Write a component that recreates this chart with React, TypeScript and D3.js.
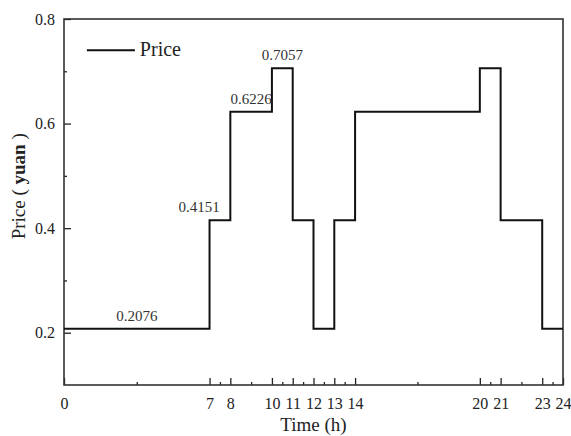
import * as d3 from 'd3';
import { useEffect, useRef } from 'react';

// step boundaries (hours) and the price that holds from each boundary to the next
const hours = [0, 7, 8, 10, 11, 12, 13, 14, 20, 21, 23, 24];
const prices = [0.2076, 0.4151, 0.6226, 0.7057, 0.4151, 0.2076, 0.4151, 0.6226, 0.7057, 0.4151, 0.2076];
const yTicks = [0.2, 0.4, 0.6, 0.8];
const yMinorTicks = [0.3, 0.5, 0.7];
// value labels: [hour, price, text]
const annotations: [number, number, string][] = [
    [3.5, 0.2076, '0.2076'],
    [6.5, 0.4151, '0.4151'],
    [9, 0.6226, '0.6226'],
    [10.5, 0.7057, '0.7057'],
];

const W = 571;
const H = 436;
const font = '"Liberation Serif", "Times New Roman", serif';

function App() {
    const ref = useRef<SVGSVGElement>(null);

    useEffect(() => {
        const margin = { top: 19, right: 8, bottom: 51, left: 64 };
        const width = W - margin.left - margin.right;
        const height = H - margin.top - margin.bottom;

        const root = d3.select(ref.current);
        root.selectAll('*').remove();
        const svg = root.append('g').attr('transform', `translate(${margin.left},${margin.top})`);

        const x = d3.scaleLinear().domain([0, 24]).range([0, width]);
        const y = d3.scaleLinear().domain([0.1, 0.8]).range([height, 0]);

        // minor x ticks halfway between labelled hours
        const xMinor = d3.pairs(hours).map(([a, b]) => (a + b) / 2);

        svg.append('g')
            .attr('transform', `translate(0,${height})`)
            .call(d3.axisBottom(x).tickValues(xMinor).tickSize(-3).tickFormat(() => ''))
            .call(g => g.select('.domain').remove())
            .selectAll('line').attr('stroke', '#222').attr('stroke-width', 1.3);

        const xAxis = svg.append('g')
            .attr('transform', `translate(0,${height})`)
            .call(d3.axisBottom(x).tickValues(hours).tickSize(-7).tickPadding(13).tickFormat(d3.format('d')));
        xAxis.select('.domain').remove();
        xAxis.selectAll('line').attr('stroke', '#222').attr('stroke-width', 1.3);
        xAxis.selectAll('text').attr('font-family', font).attr('font-size', 16).attr('fill', '#222');

        svg.append('g')
            .call(d3.axisLeft(y).tickValues(yMinorTicks).tickSize(-3).tickFormat(() => ''))
            .call(g => g.select('.domain').remove())
            .selectAll('line').attr('stroke', '#222').attr('stroke-width', 1.3);

        const yAxis = svg.append('g')
            .call(d3.axisLeft(y).tickValues(yTicks).tickSize(-7).tickPadding(9).tickFormat(d3.format('.1f')));
        yAxis.select('.domain').remove();
        yAxis.selectAll('line').attr('stroke', '#222').attr('stroke-width', 1.3);
        yAxis.selectAll('text').attr('font-family', font).attr('font-size', 16).attr('fill', '#222');

        // frame
        svg.append('rect')
            .attr('width', width)
            .attr('height', height)
            .attr('fill', 'none')
            .attr('stroke', '#333')
            .attr('stroke-width', 1.6);

        const stepData = prices.map((p, i) => ({ h: hours[i], p }));
        stepData.push({ h: hours[hours.length - 1], p: prices[prices.length - 1] });

        const line = d3.line<{ h: number; p: number }>()
            .x(d => x(d.h))
            .y(d => y(d.p))
            .curve(d3.curveStepAfter);

        svg.append('path')
            .datum(stepData)
            .attr('fill', 'none')
            .attr('stroke', '#111')
            .attr('stroke-width', 2)
            .attr('d', line);

        svg.selectAll('.ann')
            .data(annotations)
            .join('text')
            .attr('class', 'ann')
            .attr('x', d => x(d[0]))
            .attr('y', d => y(d[1]) - 8)
            .attr('text-anchor', 'middle')
            .attr('font-family', font)
            .attr('font-size', 15)
            .attr('fill', '#333')
            .text(d => d[2]);

        // legend
        const legend = svg.append('g').attr('transform', `translate(${x(1.1)},${y(0.74)})`);
        legend.append('line').attr('x1', 0).attr('x2', 48).attr('stroke', '#111').attr('stroke-width', 2);
        legend.append('text')
            .attr('x', 53)
            .attr('y', 6)
            .attr('font-family', font)
            .attr('font-size', 20)
            .attr('fill', '#222')
            .text('Price');

        // axis titles
        root.append('text')
            .attr('x', margin.left + width / 2)
            .attr('y', H - 5)
            .attr('text-anchor', 'middle')
            .attr('font-family', font)
            .attr('font-size', 19)
            .attr('fill', '#222')
            .text('Time (h)');

        const yt = root.append('text')
            .attr('transform', `translate(25,${margin.top + y(0.48)}) rotate(-90)`)
            .attr('text-anchor', 'middle')
            .attr('font-family', font)
            .attr('font-size', 19)
            .attr('fill', '#222');
        yt.append('tspan').text('Price ( ');
        yt.append('tspan').attr('font-weight', 'bold').text('yuan');
        yt.append('tspan').text(' )');
    }, []);

    return (
        <div style={{ position: 'fixed', left: 0, top: 0, background: '#fff' }}>
            <svg ref={ref} width={W} height={H} style={{ display: 'block' }} />
        </div>
    );
}

export default App;
